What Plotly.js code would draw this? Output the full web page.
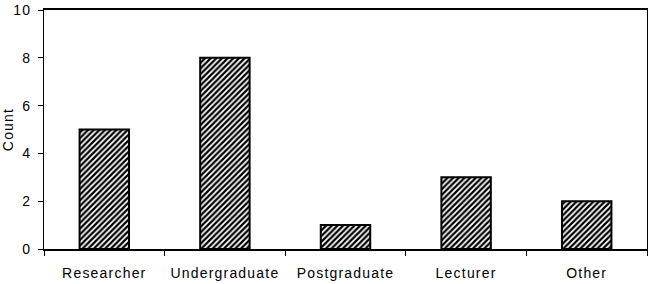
<!DOCTYPE html>
<html>
<head>
<meta charset="utf-8">
<script src="https://cdn.plot.ly/plotly-3.0.1.min.js"></script>
<style>
html,body{margin:0;padding:0;background:#fff;}
#chart{width:650px;height:284px;}
#chart .xtick text,#chart .ytick text,#chart .g-ytitle text{letter-spacing:1.2px;}
</style>
</head>
<body>
<div id="chart"></div>
<script>
const categories = ["Researcher", "Undergraduate", "Postgraduate", "Lecturer", "Other"];
const counts = [5, 8, 1, 3, 2];
const yTicks = [0, 2, 4, 6, 8, 10];

const trace = {
  type: "bar",
  x: categories,
  y: counts,
  width: 0.41,
  marker: {
    color: "#ffffff",
    line: {color: "#000000", width: 2},
    pattern: {shape: "/", fgcolor: "#000000", fgopacity: 1, bgcolor: "#ffffff", size: 4, solidity: 0.55, fillmode: "overlay"}
  },
  hoverinfo: "none"
};

const layout = {
  width: 650, height: 284,
  margin: {l: 44, r: 3, t: 10, b: 35, pad: 0},
  paper_bgcolor: "#ffffff", plot_bgcolor: "#ffffff",
  font: {family: "Liberation Sans, Arial, sans-serif", size: 14, color: "#000000"},
  showlegend: false,
  xaxis: {
    type: "category",
    tickson: "boundaries",
    ticks: "outside", ticklen: 5, tickwidth: 1, tickcolor: "#000",
    ticklabelstandoff: 10,
    showline: true, linecolor: "#000", linewidth: 2, mirror: true,
    showgrid: false, zeroline: false,
    tickfont: {size: 14}
  },
  yaxis: {
    range: [0, 10],
    tickvals: yTicks,
    ticks: "outside", ticklen: 5, tickwidth: 1, tickcolor: "#000",
    ticklabelstandoff: 4,
    showline: true, linecolor: "#000", linewidth: 1, mirror: true,
    showgrid: false, zeroline: false,
    tickfont: {size: 14},
    title: {text: "Count", font: {size: 14}, standoff: 6}
  }
};

Plotly.newPlot("chart", [trace], layout, {staticPlot: true, displayModeBar: false});
</script>
</body>
</html>
